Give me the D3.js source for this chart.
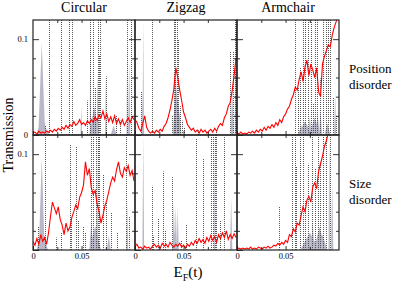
<!DOCTYPE html>
<html>
<head>
<meta charset="utf-8">
<script src="https://cdn.jsdelivr.net/npm/d3@7"></script>
<style>
  body { margin: 0; background: #fff; }
  svg, svg text { font-family: "Liberation Serif", Tinos, "Times New Roman", Times, serif; fill: #000; }
</style>
</head>
<body>
<svg id="chart" width="399" height="286"></svg>
<script>
// panel grid
const columns = ["Circular", "Zigzag", "Armchair"];
const rows = ["Position", "Size"];
const rowLabels = [["Position", "disorder"], ["Size", "disorder"]];

// energy grid of the transmission curves, E_F in units of t
const energy = d3.range(53).map(i => i * 0.002);

// transmission (red curves)
const circPosT = [0.002,0.003,0.001,0.004,0.002,0.003,0.002,0.004,0.003,0.005,
  0.003,0.006,0.004,0.007,0.005,0.008,0.006,0.010,0.007,0.011,
  0.009,0.014,0.010,0.012,0.016,0.011,0.013,0.010,0.015,0.012,
  0.016,0.013,0.019,0.015,0.021,0.018,0.025,0.017,0.022,0.014,
  0.019,0.013,0.020,0.012,0.017,0.011,0.016,0.010,0.014,0.018,
  0.013,0.019,0.016];
const zigPosT = [0.016,0.013,0.007,0.004,0.012,0.020,0.008,0.004,0.002,0.004,
  0.002,0.005,0.003,0.006,0.004,0.009,0.012,0.018,0.026,0.036,
  0.048,0.070,0.060,0.047,0.036,0.024,0.018,0.011,0.008,0.005,
  0.007,0.003,0.005,0.002,0.006,0.003,0.005,0.002,0.004,0.006,
  0.003,0.007,0.004,0.009,0.012,0.010,0.018,0.022,0.030,0.034,
  0.046,0.062,0.080];
const armPosT = [0.002,0.001,0.003,0.001,0.002,0.001,0.003,0.002,0.004,0.002,
  0.005,0.003,0.006,0.004,0.008,0.005,0.009,0.007,0.011,0.008,
  0.013,0.010,0.016,0.013,0.019,0.022,0.027,0.030,0.037,0.042,
  0.050,0.047,0.058,0.066,0.056,0.071,0.078,0.062,0.074,0.068,
  0.060,0.070,0.045,0.040,0.074,0.082,0.088,0.094,0.092,0.104,
  0.112,0.118,0.125];
const circSizeT = [0.009,0.005,0.012,0.006,0.016,0.009,0.013,0.006,0.018,0.035,
  0.050,0.044,0.038,0.045,0.032,0.026,0.016,0.028,0.020,0.024,
  0.034,0.040,0.047,0.043,0.055,0.060,0.068,0.092,0.078,0.085,
  0.065,0.058,0.062,0.048,0.040,0.028,0.036,0.046,0.052,0.061,
  0.070,0.076,0.072,0.084,0.092,0.080,0.076,0.086,0.082,0.088,
  0.078,0.083,0.072];
const zigSizeT = [0.004,0.006,0.002,0.003,0.001,0.004,0.002,0.003,0.001,0.004,
  0.006,0.003,0.005,0.002,0.007,0.004,0.006,0.003,0.008,0.005,
  0.003,0.006,0.004,0.007,0.003,0.005,0.002,0.006,0.004,0.008,
  0.005,0.010,0.007,0.012,0.008,0.011,0.007,0.013,0.009,0.015,
  0.010,0.014,0.008,0.016,0.012,0.018,0.013,0.020,0.011,0.016,
  0.012,0.017,0.013];
const armSizeT = [0.001,0.002,0.001,0.002,0.001,0.002,0.001,0.003,0.001,0.002,
  0.001,0.003,0.002,0.001,0.003,0.002,0.004,0.002,0.003,0.005,
  0.004,0.007,0.005,0.008,0.006,0.010,0.008,0.016,0.014,0.022,
  0.019,0.028,0.026,0.036,0.045,0.040,0.052,0.056,0.050,0.066,
  0.070,0.064,0.082,0.090,0.098,0.108,0.114,0.122,0.130,0.135,
  0.140,0.140,0.140];

// resonance levels (dotted lines): [energy, height]
const circPosLevels = [[0.0166,0.12],[0.0293,0.12],[0.037,0.12],[0.0405,0.12],[0.0589,0.12],
  [0.0622,0.12],[0.067,0.12],[0.069,0.12],[0.0969,0.12],[0.1007,0.12],[0.056,0.036],
  [0.0675,0.083],[0.075,0.061],[0.064,0.05],[0.085,0.02],[0.090,0.015],[0.012,0.01]];
const zigPosLevels = [[0.0061,0.045],[0.018,0.12],[0.040,0.12],[0.0415,0.12],[0.043,0.12],
  [0.044,0.10],[0.046,0.03],[0.048,0.015],[0.038,0.02],[0.050,0.008],[0.098,0.087],
  [0.1005,0.087],[0.1025,0.12],[0.1038,0.12],[0.0647,0.005],[0.083,0.006]];
const armPosLevels = [[0.0598,0.12],[0.0683,0.12],[0.070,0.12],[0.0734,0.12],[0.0758,0.12],
  [0.080,0.12],[0.082,0.12],[0.0887,0.12],[0.0915,0.12],[0.0938,0.12],[0.0962,0.12],
  [0.063,0.049],[0.065,0.07],[0.078,0.033],[0.085,0.059],[0.099,0.039],[0.102,0.02]];
const circSizeLevels = [[0.0122,0.12],[0.0377,0.11],[0.0446,0.108],[0.0599,0.12],[0.0615,0.12],
  [0.065,0.12],[0.0666,0.12],[0.0683,0.12],[0.0956,0.12],[0.0054,0.025],[0.0238,0.013],
  [0.029,0.018],[0.039,0.031],[0.046,0.031],[0.051,0.025],[0.054,0.018],[0.0717,0.079],
  [0.0748,0.049],[0.0799,0.039],[0.0867,0.018],[0.099,0.035]];
const zigSizeLevels = [[0.0173,0.067],[0.0235,0.033],[0.0293,0.082],[0.0377,0.076],[0.052,0.027],
  [0.0632,0.116],[0.0705,0.095],[0.0785,0.12],[0.0803,0.12],[0.082,0.12],[0.0836,0.12],
  [0.087,0.031],[0.092,0.118],[0.019,0.015],[0.031,0.02],[0.047,0.01]];
const armSizeLevels = [[0.0428,0.045],[0.0564,0.12],[0.0598,0.12],[0.065,0.12],[0.0683,0.12],
  [0.0734,0.09],[0.0768,0.12],[0.0803,0.085],[0.0836,0.12],[0.0887,0.12],[0.0921,0.12],
  [0.0956,0.12],[0.061,0.087],[0.070,0.052],[0.085,0.09]];

// local density of states (grey peaks): [centre, height, half width]
const circPosDos = [[0.009,0.096,0.0035],[0.0095,0.02,0.006],[0.015,0.006,0.002],[0.0497,0.030,0.0008],
  [0.059,0.12,0.0006],[0.063,0.030,0.005],[0.0666,0.065,0.001],[0.075,0.061,0.0008],
  [0.083,0.01,0.003],[0.0969,0.096,0.0006],[0.099,0.077,0.0012]];
const zigPosDos = [[0.0075,0.044,0.001],[0.0085,0.12,0.0008],[0.042,0.063,0.003],[0.044,0.04,0.004],
  [0.100,0.05,0.0015],[0.1035,0.12,0.0008]];
const armPosDos = [[0.066,0.01,0.003],[0.070,0.014,0.008],[0.075,0.02,0.0015],[0.080,0.018,0.006],
  [0.083,0.022,0.002],[0.086,0.026,0.0015],[0.093,0.012,0.003],[0.101,0.045,0.001]];
const circSizeDos = [[0.009,0.096,0.003],[0.0095,0.02,0.006],[0.0125,0.01,0.002],[0.060,0.03,0.002],
  [0.064,0.025,0.006],[0.066,0.12,0.0008],[0.078,0.015,0.002],[0.097,0.05,0.001]];
const zigSizeDos = [[0.0085,0.12,0.0009],[0.040,0.05,0.0012],[0.041,0.02,0.003],[0.042,0.045,0.0012],
  [0.044,0.046,0.001],[0.082,0.12,0.0006],[0.099,0.055,0.0012]];
const armSizeDos = [[0.075,0.018,0.01],[0.078,0.03,0.0015],[0.085,0.024,0.006],[0.088,0.016,0.005],
  [0.095,0.12,0.0008],[0.098,0.07,0.0012]];

const panels = [
  { col: 0, row: 0, t: circPosT, levels: circPosLevels, dos: circPosDos },
  { col: 1, row: 0, t: zigPosT, levels: zigPosLevels, dos: zigPosDos },
  { col: 2, row: 0, t: armPosT, levels: armPosLevels, dos: armPosDos },
  { col: 0, row: 1, t: circSizeT, levels: circSizeLevels, dos: circSizeDos },
  { col: 1, row: 1, t: zigSizeT, levels: zigSizeLevels, dos: zigSizeDos },
  { col: 2, row: 1, t: armSizeT, levels: armSizeLevels, dos: armSizeDos }
];

const svg = d3.select("#chart");

const colScale = d3.scaleBand().domain(d3.range(3)).range([33, 339]);
const rowScale = d3.scaleBand().domain(d3.range(2)).range([20, 250]);
const pw = colScale.bandwidth(), ph = rowScale.bandwidth();

const x = d3.scaleLinear().domain([0, 0.105]).range([0, pw]);
const y = d3.scaleLinear().domain([0, 0.12]).range([ph, 0]);

const line = d3.line().x((d, i) => x(energy[i])).y(d => y(d));
const peak = d3.area().x(d => x(d[0])).y0(y(0)).y1(d => y(d[1]));

function styleAxis(g) {
  g.select(".domain").remove();
  g.selectAll("line").attr("stroke", "#000").attr("stroke-width", 0.8);
  g.selectAll("text").attr("font-size", 8.5).attr("font-family", null);
}

panels.forEach((p, k) => {
  const g = svg.append("g")
    .attr("transform", "translate(" + colScale(p.col) + "," + rowScale(p.row) + ")");

  g.append("clipPath").attr("id", "clip" + k)
    .append("rect").attr("width", pw).attr("height", ph);

  const body = g.append("g").attr("clip-path", "url(#clip" + k + ")");

  // grey peaks
  body.selectAll(".dos")
    .data(p.dos)
    .enter().append("path")
    .attr("class", "dos")
    .attr("d", d => peak([[d[0] - d[2], 0], [d[0], d[1]], [d[0] + d[2], 0]]))
    .attr("fill", "#b8b8c8");

  // dotted levels, snapped to pixel centres so the dots stay crisp
  body.selectAll(".lev")
    .data(p.levels)
    .enter().append("line")
    .attr("class", "lev")
    .attr("x1", d => Math.round(x(d[0])) + 0.5).attr("x2", d => Math.round(x(d[0])) + 0.5)
    .attr("y1", y(0)).attr("y2", d => y(d[1]))
    .attr("stroke", "#444")
    .attr("stroke-width", 0.9)
    .attr("stroke-dasharray", "1,1");

  // transmission
  body.append("path")
    .datum(p.t)
    .attr("d", line)
    .attr("fill", "none")
    .attr("stroke", "#ff0000")
    .attr("stroke-width", 1.1);

  // ticks, all pointing inwards
  const leftLabels = p.col === 0 ? (p.row === 0 ? [0, 0.1] : [0.1]) : [];
  g.append("g").call(d3.axisLeft(y).tickValues([0.02, 0.04, 0.06, 0.08]).tickSize(-3).tickFormat("")).call(styleAxis);
  g.append("g").call(d3.axisLeft(y).tickValues([0, 0.1]).tickSize(-6).tickPadding(5)
    .tickFormat(d => leftLabels.includes(d) ? (d === 0 ? "0" : "0.1") : "")).call(styleAxis);
  g.append("g").attr("transform", "translate(" + pw + ",0)")
    .call(d3.axisRight(y).tickValues([0.02, 0.04, 0.06, 0.08]).tickSize(-3).tickFormat("")).call(styleAxis);
  g.append("g").attr("transform", "translate(" + pw + ",0)")
    .call(d3.axisRight(y).tickValues([0.1]).tickSize(-6).tickFormat("")).call(styleAxis);

  g.append("g").call(d3.axisTop(x).tickValues([0.025, 0.05, 0.075]).tickSize(-3).tickFormat("")).call(styleAxis);
  g.append("g").attr("transform", "translate(0," + ph + ")")
    .call(d3.axisBottom(x).tickValues([0.025, 0.075]).tickSize(-3).tickFormat("")).call(styleAxis);
  g.append("g").attr("transform", "translate(0," + ph + ")")
    .call(d3.axisBottom(x).tickValues([0, 0.05]).tickSize(-4).tickPadding(3)
      .tickFormat(d => p.row === 1 ? (d === 0 ? "0" : "0.05") : "")).call(styleAxis);

  g.append("rect")
    .attr("width", pw).attr("height", ph)
    .attr("fill", "none")
    .attr("stroke", "#222")
    .attr("stroke-width", 1.2);
});

// column titles
svg.selectAll(".title")
  .data(columns)
  .enter().append("text")
  .attr("class", "title")
  .attr("x", (d, i) => colScale(i) + pw / 2)
  .attr("y", 12)
  .attr("text-anchor", "middle")
  .attr("font-size", 14)
  .text(d => d);

// row labels
rowLabels.forEach((lab, r) => {
  const t = svg.append("text")
    .attr("x", 349)
    .attr("y", rowScale(r) + ph / 2 - 5)
    .attr("font-size", 13);
  t.append("tspan").attr("x", 349).text(lab[0]);
  t.append("tspan").attr("x", 349).attr("dy", 16).text(lab[1]);
});

// axis titles
svg.append("text")
  .attr("transform", "translate(13,135) rotate(-90)")
  .attr("text-anchor", "middle")
  .attr("font-size", 14)
  .text("Transmission");

const xt = svg.append("text")
  .attr("x", 188)
  .attr("y", 277)
  .attr("text-anchor", "middle")
  .attr("font-size", 15);
xt.append("tspan").text("E");
xt.append("tspan").attr("font-size", 10).attr("dy", 4).text("F");
xt.append("tspan").attr("dy", -4).text("(t)");
</script>
</body>
</html>
